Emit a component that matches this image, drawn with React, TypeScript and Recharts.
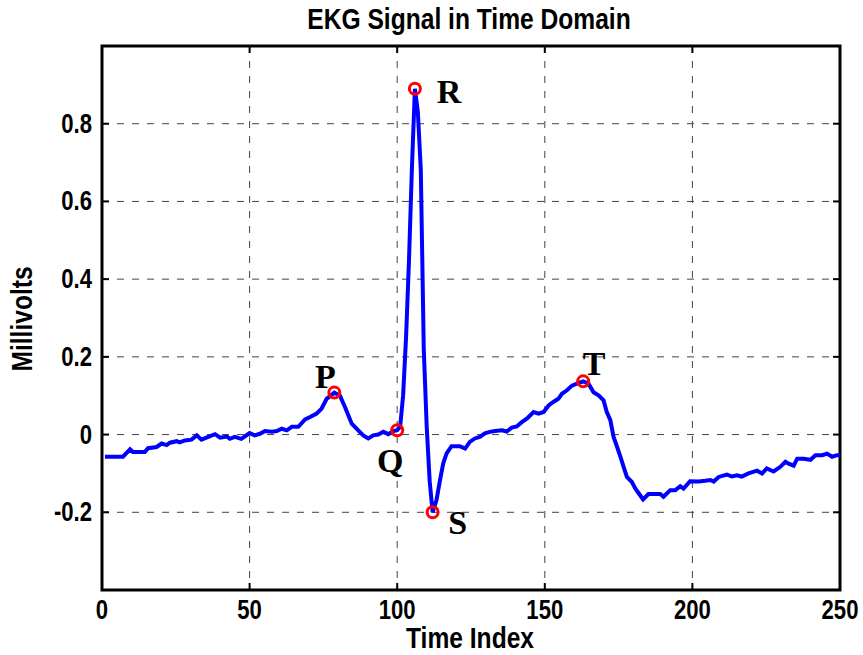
import React from 'react';
import {
  ComposedChart,
  Line,
  XAxis,
  YAxis,
  CartesianGrid,
  ReferenceArea,
  ReferenceDot,
  Customized,
} from 'recharts';

// EKG samples
const timeIndex = [
  1, 7.1, 9.5, 10.5, 14.5, 15.6, 18.5, 20.2, 21.9, 23, 25.3, 26.3, 28.1, 30.3, 32.1, 33.7, 36,
  38.3, 40, 42.3, 43.3, 45, 47.2, 50, 51.7, 53.5, 55.2, 57.5, 59.2, 60.9, 62.6, 64.3, 66.5, 68.8,
  70.5, 72.7, 74.4, 76.1, 78.7, 80.6, 82.3, 84.6, 86.8, 88.5, 90.2, 91.9, 93.6, 95.3, 97, 98.7,
  100, 101, 102, 103, 104, 105, 106, 107, 108, 109, 110, 111, 112, 113.3, 114.5, 115.6, 116.7,
  118.4, 121.2, 123, 124.6, 126.3, 128, 129.7, 131.4, 133.1, 135.5, 137.1, 138.8, 140.5, 142.2,
  143.9, 146.2, 147.9, 149.6, 151.3, 152.9, 154.6, 155.8, 157.5, 159.2, 160.9, 163, 164.8, 166.5,
  168.2, 169.9, 171, 172.2, 173.3, 174.5, 175.6, 176.7, 177.8, 179.5, 180.6, 181.8, 183.3, 185.1,
  189.1, 190.2, 192.5, 194.2, 195.9, 197, 199.2, 202.1, 204.3, 206.1, 207.2, 208.9, 211.7, 213.4,
  215.1, 216.7, 219, 221.9, 223.6, 225.2, 227.5, 229.8, 231.5, 232.6, 234.3, 235.5, 237.7, 240,
  241.7, 244, 245.6, 247.3, 249, 250,
];
const millivolts = [
  -0.057, -0.057, -0.038, -0.045, -0.045, -0.035, -0.032, -0.023, -0.027, -0.021, -0.017, -0.02,
  -0.015, -0.013, -0.002, -0.013, -0.006, 0.001, -0.008, -0.005, -0.011, -0.006, -0.011, 0.004,
  -0.002, 0.002, 0.009, 0.007, 0.009, 0.015, 0.011, 0.02, 0.02, 0.039, 0.045, 0.054, 0.067, 0.092,
  0.108, 0.1, 0.071, 0.028, 0.011, -0.002, -0.01, -0.002, 0.0, 0.007, 0.001, 0.009, 0.011, 0.02,
  0.1, 0.25, 0.45, 0.69, 0.89, 0.83, 0.68, 0.22, 0.02, -0.12, -0.2, -0.169, -0.117, -0.074, -0.049,
  -0.03, -0.03, -0.036, -0.019, -0.01, -0.006, 0.003, 0.007, 0.009, 0.011, 0.008, 0.018, 0.021,
  0.032, 0.041, 0.058, 0.054, 0.058, 0.075, 0.084, 0.092, 0.105, 0.114, 0.126, 0.131, 0.137, 0.131,
  0.109, 0.101, 0.088, 0.058, 0.037, -0.006, -0.032, -0.057, -0.083, -0.109, -0.122, -0.138,
  -0.151, -0.167, -0.153, -0.153, -0.16, -0.143, -0.143, -0.133, -0.139, -0.12, -0.121, -0.119,
  -0.117, -0.121, -0.109, -0.103, -0.108, -0.105, -0.108, -0.1, -0.093, -0.1, -0.087, -0.095,
  -0.083, -0.07, -0.075, -0.08, -0.062, -0.062, -0.065, -0.053, -0.053, -0.049, -0.057, -0.053,
  -0.053,
];

const xTicks = [0, 50, 100, 150, 200, 250];
const yTicks = [-0.2, 0, 0.2, 0.4, 0.6, 0.8];

// P, Q, R, S, T waves
const waveNames = ['P', 'Q', 'R', 'S', 'T'];
const waveTimes = [78.7, 100, 106, 112, 163];
const waveValues = [0.108, 0.011, 0.89, -0.2, 0.137];

// label offsets from the marker centre (px)
const labelOffset = {
  P: [-9, -5],
  Q: [-7, 42],
  R: [34, 14],
  S: [25, 22],
  T: [11, -6],
};

const W = 863;
const H = 655;
const PLOT_LEFT = 102;
const PLOT_RIGHT = 840;
const PLOT_TOP = 46;
const PLOT_BOTTOM = 590;

const SANS = '"Liberation Sans", Arial, Helvetica, sans-serif';
const SERIF = '"Liberation Serif", "Times New Roman", serif';

const data = timeIndex.map((t, i) => ({ t, mv: millivolts[i] }));

// bold helvetica squeezed horizontally, like the matlab export
const NarrowText = ({ x, y, size, anchor = 'middle', rotate = false, children }: any) => (
  <text
    transform={`translate(${x} ${y})${rotate ? ' rotate(-90)' : ''} scale(0.82 1)`}
    textAnchor={anchor}
    fontFamily={SANS}
    fontWeight="bold"
    fontSize={size}
    fill="#000"
  >
    {children}
  </text>
);

const XTick = (props: any) => {
  const { x, payload } = props;
  return (
    <g>
      <line x1={x} y1={PLOT_BOTTOM} x2={x} y2={PLOT_BOTTOM - 7} stroke="#000" strokeWidth={2} />
      <line x1={x} y1={PLOT_TOP} x2={x} y2={PLOT_TOP + 7} stroke="#000" strokeWidth={2} />
      <NarrowText x={x} y={PLOT_BOTTOM + 29} size={27}>
        {payload.value}
      </NarrowText>
    </g>
  );
};

const YTick = (props: any) => {
  const { y, payload } = props;
  return (
    <g>
      <line x1={PLOT_LEFT} y1={y} x2={PLOT_LEFT + 7} y2={y} stroke="#000" strokeWidth={2} />
      <line x1={PLOT_RIGHT} y1={y} x2={PLOT_RIGHT - 7} y2={y} stroke="#000" strokeWidth={2} />
      <NarrowText x={PLOT_LEFT - 10} y={y + 9} size={27} anchor="end">
        {String(payload.value)}
      </NarrowText>
    </g>
  );
};

const Titles = () => (
  <g>
    <NarrowText x={469} y={29} size={30}>
      EKG Signal in Time Domain
    </NarrowText>
    <NarrowText x={470} y={648} size={30}>
      Time Index
    </NarrowText>
    <NarrowText x={32} y={319} size={30} rotate>
      Millivolts
    </NarrowText>
  </g>
);

const waveMarker = (name: string) => (p: any) => {
  const [dx, dy] = labelOffset[name];
  return (
    <g>
      <circle cx={p.cx} cy={p.cy} r={5.5} fill="none" stroke="#ff0000" strokeWidth={3} />
      <text
        x={p.cx + dx}
        y={p.cy + dy}
        textAnchor="middle"
        fontFamily={SERIF}
        fontWeight="bold"
        fontSize={34}
        fill="#000"
      >
        {name}
      </text>
    </g>
  );
};

export default function App() {
  return (
    <div style={{ position: 'absolute', left: 0, top: 0, width: W, height: H, background: '#fff' }}>
      <ComposedChart
        width={W}
        height={H}
        data={data}
        margin={{ top: PLOT_TOP, right: W - PLOT_RIGHT, bottom: 0, left: 0 }}
      >
        <CartesianGrid stroke="#444" strokeDasharray="7 8" strokeWidth={1} />
        <XAxis
          dataKey="t"
          type="number"
          domain={[0, 250]}
          ticks={xTicks}
          height={H - PLOT_BOTTOM}
          axisLine={false}
          tickLine={false}
          tickSize={0}
          tick={<XTick />}
          allowDataOverflow
        />
        <YAxis
          type="number"
          domain={[-0.4, 1]}
          ticks={yTicks}
          width={PLOT_LEFT}
          axisLine={false}
          tickLine={false}
          tickSize={0}
          tick={<YTick />}
          allowDataOverflow
        />
        <Line
          dataKey="mv"
          type="linear"
          stroke="#0000ff"
          strokeWidth={4}
          dot={false}
          activeDot={false}
          isAnimationActive={false}
        />
        {waveNames.map((name, i) => (
          <ReferenceDot
            key={name}
            x={waveTimes[i]}
            y={waveValues[i]}
            r={5.5}
            shape={waveMarker(name)}
          />
        ))}
        <ReferenceArea
          x1={0}
          x2={250}
          y1={-0.4}
          y2={1}
          fill="none"
          fillOpacity={0}
          stroke="#000"
          strokeWidth={3}
          ifOverflow="visible"
        />
        <Customized component={Titles} />
      </ComposedChart>
    </div>
  );
}
